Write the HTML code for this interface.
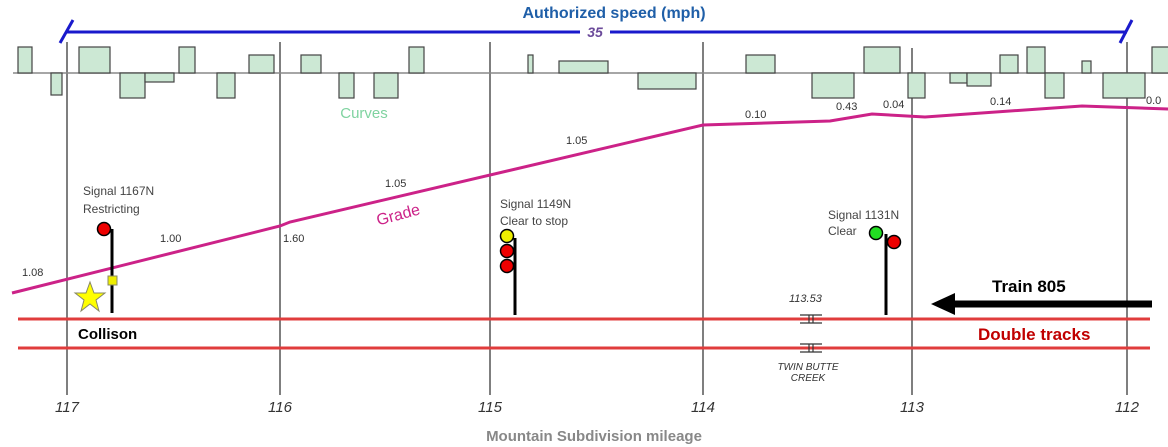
<!DOCTYPE html>
<html><head><style>body{margin:0;background:#fff}svg{display:block}</style></head><body>
<svg width="1168" height="447" xmlns="http://www.w3.org/2000/svg" font-family="Liberation Sans, sans-serif">
<g stroke="#555" stroke-width="1.5">
<line x1="67" y1="42" x2="67" y2="395"/><line x1="280" y1="42" x2="280" y2="395"/><line x1="490" y1="42" x2="490" y2="395"/><line x1="703" y1="42" x2="703" y2="395"/><line x1="912" y1="48" x2="912" y2="395"/><line x1="1127" y1="42" x2="1127" y2="395"/>
</g>
<line x1="13" y1="73" x2="1168" y2="73" stroke="#888" stroke-width="1.5"/>
<g fill="#cce8d4" stroke="#444" stroke-width="1.2">
<rect x="18" y="47" width="14" height="26"/><rect x="51" y="73" width="11" height="22"/><rect x="79" y="47" width="31" height="26"/><rect x="120" y="73" width="25" height="25"/><rect x="145" y="73" width="29" height="9"/><rect x="179" y="47" width="16" height="26"/><rect x="217" y="73" width="18" height="25"/><rect x="249" y="55" width="25" height="18"/><rect x="301" y="55" width="20" height="18"/><rect x="339" y="73" width="15" height="25"/><rect x="374" y="73" width="24" height="25"/><rect x="409" y="47" width="15" height="26"/><rect x="528" y="55" width="5" height="18"/><rect x="559" y="61" width="49" height="12"/><rect x="638" y="73" width="58" height="16"/><rect x="746" y="55" width="29" height="18"/><rect x="812" y="73" width="42" height="25"/><rect x="864" y="47" width="36" height="26"/><rect x="908" y="73" width="17" height="25"/><rect x="950" y="73" width="17" height="10"/><rect x="967" y="73" width="24" height="13"/><rect x="1000" y="55" width="18" height="18"/><rect x="1027" y="47" width="18" height="26"/><rect x="1045" y="73" width="19" height="25"/><rect x="1082" y="61" width="9" height="12"/><rect x="1103" y="73" width="42" height="25"/><rect x="1152" y="47" width="18" height="26"/>
</g>
<line x1="67" y1="32" x2="1127" y2="32" stroke="#1a1acc" stroke-width="3"/>
<line x1="60" y1="43" x2="73" y2="20" stroke="#1a1acc" stroke-width="3"/>
<line x1="1120" y1="43" x2="1132" y2="20" stroke="#1a1acc" stroke-width="3"/>
<rect x="580" y="24" width="30" height="16" fill="#fff"/>
<text x="595" y="37" text-anchor="middle" font-size="14" font-style="italic" font-weight="bold" fill="#6b4a9a">35</text>
<text x="614" y="18" text-anchor="middle" font-size="16" font-weight="bold" fill="#1f5fa8">Authorized speed (mph)</text>
<text x="364" y="118" text-anchor="middle" font-size="15" fill="#7fd3a0">Curves</text>
<polyline points="12,293 280,226 290,222 703,125 830,121 872,114 925,117 1082,106 1168,109" fill="none" stroke="#cc2288" stroke-width="3"/>
<g font-size="11" fill="#333">
<text x="22" y="276">1.08</text><text x="160" y="242">1.00</text><text x="283" y="242">1.60</text><text x="385" y="187">1.05</text><text x="566" y="144">1.05</text><text x="745" y="118">0.10</text><text x="836" y="110">0.43</text><text x="883" y="108">0.04</text><text x="990" y="105">0.14</text><text x="1146" y="104">0.0</text>
</g>
<text x="398" y="220" text-anchor="middle" font-size="16" fill="#cc2288" transform="rotate(-15 398 214)">Grade</text>
<g font-size="12" fill="#444">
<text x="83" y="195">Signal 1167N</text><text x="83" y="213">Restricting</text>
<text x="500" y="208">Signal 1149N</text><text x="500" y="225">Clear to stop</text>
<text x="828" y="219">Signal 1131N</text><text x="828" y="235">Clear</text>
</g>
<g stroke="#000">
<line x1="112" y1="229" x2="112" y2="313" stroke-width="3"/>
<circle cx="104" cy="229" r="6.5" fill="#e00" stroke-width="1.5"/>
<rect x="108" y="276" width="9" height="9" fill="#ee0" stroke="#886" stroke-width="1"/>
<line x1="515" y1="238" x2="515" y2="315" stroke-width="3"/>
<circle cx="507" cy="236" r="6.5" fill="#ee0" stroke-width="1.5"/>
<circle cx="507" cy="251" r="6.5" fill="#e00" stroke-width="1.5"/>
<circle cx="507" cy="266" r="6.5" fill="#e00" stroke-width="1.5"/>
<line x1="886" y1="234" x2="886" y2="315" stroke-width="3"/>
<circle cx="876" cy="233" r="6.5" fill="#2d2" stroke-width="1.5"/>
<circle cx="894" cy="242" r="6.5" fill="#e00" stroke-width="1.5"/>
</g>
<polygon points="90,282 94,293 105,293 96,300 99,311 90,304 81,311 84,300 75,293 86,293" fill="#ff0" stroke="#886" stroke-width="1"/>
<line x1="18" y1="319" x2="1150" y2="319" stroke="#e03c3c" stroke-width="3"/>
<line x1="18" y1="348" x2="1150" y2="348" stroke="#e03c3c" stroke-width="3"/>
<g stroke="#333" stroke-width="1.2">
<line x1="800" y1="315" x2="822" y2="315"/><line x1="800" y1="323" x2="822" y2="323"/><line x1="809" y1="315" x2="809" y2="323"/><line x1="813" y1="315" x2="813" y2="323"/>
<line x1="800" y1="344" x2="822" y2="344"/><line x1="800" y1="352" x2="822" y2="352"/><line x1="809" y1="344" x2="809" y2="352"/><line x1="813" y1="344" x2="813" y2="352"/>
</g>
<text x="789" y="302" font-size="11" font-style="italic" fill="#333">113.53</text>
<text x="808" y="370" text-anchor="middle" font-size="10" font-style="italic" fill="#333">TWIN BUTTE</text>
<text x="808" y="381" text-anchor="middle" font-size="10" font-style="italic" fill="#333">CREEK</text>
<text x="78" y="339" font-size="15" font-weight="bold">Collison</text>
<text x="978" y="340" font-size="17" font-weight="bold" fill="#c00000">Double tracks</text>
<line x1="952" y1="304" x2="1152" y2="304" stroke="#000" stroke-width="7"/>
<polygon points="931,304 955,293 955,315" fill="#000"/>
<text x="992" y="292" font-size="17" font-weight="bold">Train 805</text>
<g font-size="15" font-style="italic" fill="#333" text-anchor="middle">
<text x="67" y="412">117</text><text x="280" y="412">116</text><text x="490" y="412">115</text><text x="703" y="412">114</text><text x="912" y="412">113</text><text x="1127" y="412">112</text>
</g>
<text x="594" y="441" text-anchor="middle" font-size="15" font-weight="bold" fill="#888">Mountain Subdivision mileage</text>
</svg>
</body></html>
